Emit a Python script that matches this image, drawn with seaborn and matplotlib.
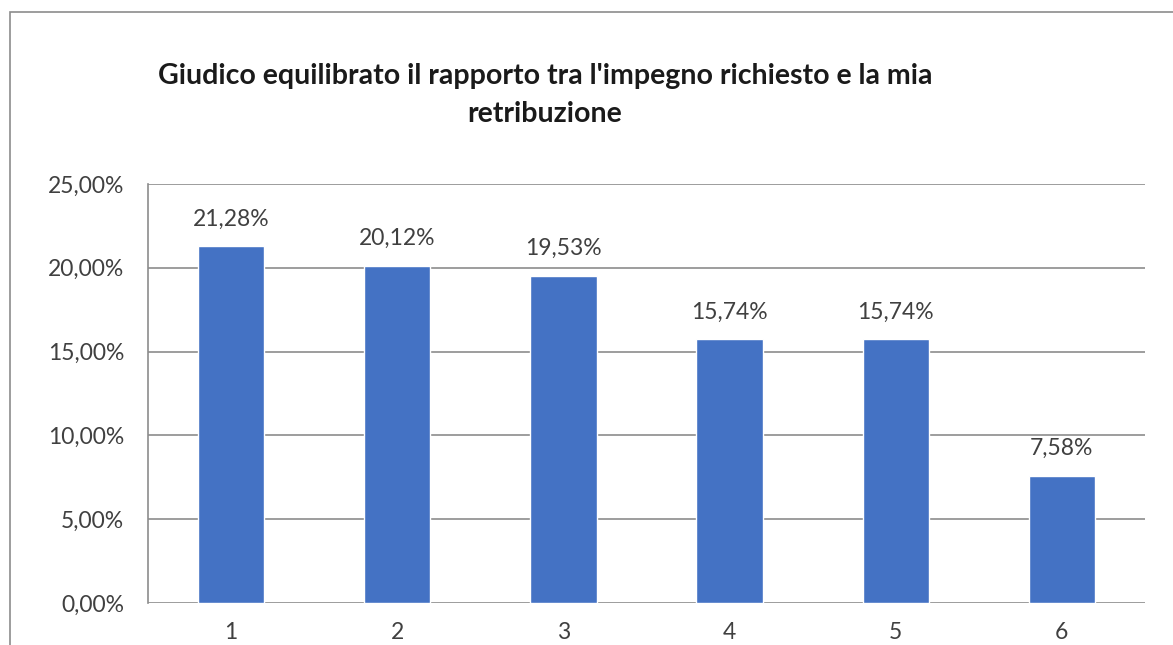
import matplotlib
matplotlib.use("Agg")
import matplotlib.pyplot as plt
import seaborn as sns
import pandas as pd
from matplotlib.patches import Rectangle
from matplotlib.ticker import FuncFormatter

# Dati
categorie = ["1", "2", "3", "4", "5", "6"]
percentuali = [21.28, 20.12, 19.53, 15.74, 15.74, 7.58]
titolo = "Giudico equilibrato il rapporto tra l'impegno richiesto e la mia\nretribuzione"

df = pd.DataFrame({"cat": categorie, "val": percentuali})

sns.set_style("white")
plt.rcParams["font.family"] = ["Lato", "DejaVu Sans"]

W, H = 1173, 645
fig = plt.figure(figsize=(W / 100, H / 100), dpi=100)
ax = fig.add_axes([148 / W, 1 - 603 / H, (1145 - 148) / W, (603 - 184) / H])

sns.barplot(data=df, x="cat", y="val", color="#4472C4", width=0.4,
            saturation=1, ax=ax)

ax.set_ylim(0, 25)
ax.set_yticks([0, 5, 10, 15, 20, 25])
ax.yaxis.set_major_formatter(FuncFormatter(lambda v, p: f"{v:.2f}%".replace(".", ",")))
ax.grid(axis="y", color="#8C8C8C", linewidth=1.2)
ax.set_axisbelow(True)
for s in ["top", "right", "bottom"]:
    ax.spines[s].set_visible(False)
ax.spines["left"].set_color("#8C8C8C")
ax.spines["left"].set_linewidth(1.2)
ax.tick_params(axis="both", length=0, labelsize=16.5, colors="#404040")
ax.tick_params(axis="y", pad=17)
ax.tick_params(axis="x", pad=14)
ax.set_xlabel("")
ax.set_ylabel("")

for c in ax.containers:
    ax.bar_label(c, labels=[f"{v:.2f}%".replace(".", ",") for v in percentuali],
                 padding=12, fontsize=16.5, color="#404040")

fig.text(545 / W, 1 - 95 / H, titolo, ha="center", va="center",
         fontsize=20.5, fontweight="bold", color="#1a1a1a", linespacing=1.55)

# bordo del grafico
fig.patches.append(Rectangle((10 / W, -0.1), 1.2, 1 - 12 / H + 0.1,
                             transform=fig.transFigure, fill=False,
                             edgecolor="#8C8C8C", linewidth=1.2))

fig.savefig("out.png", dpi=100)
